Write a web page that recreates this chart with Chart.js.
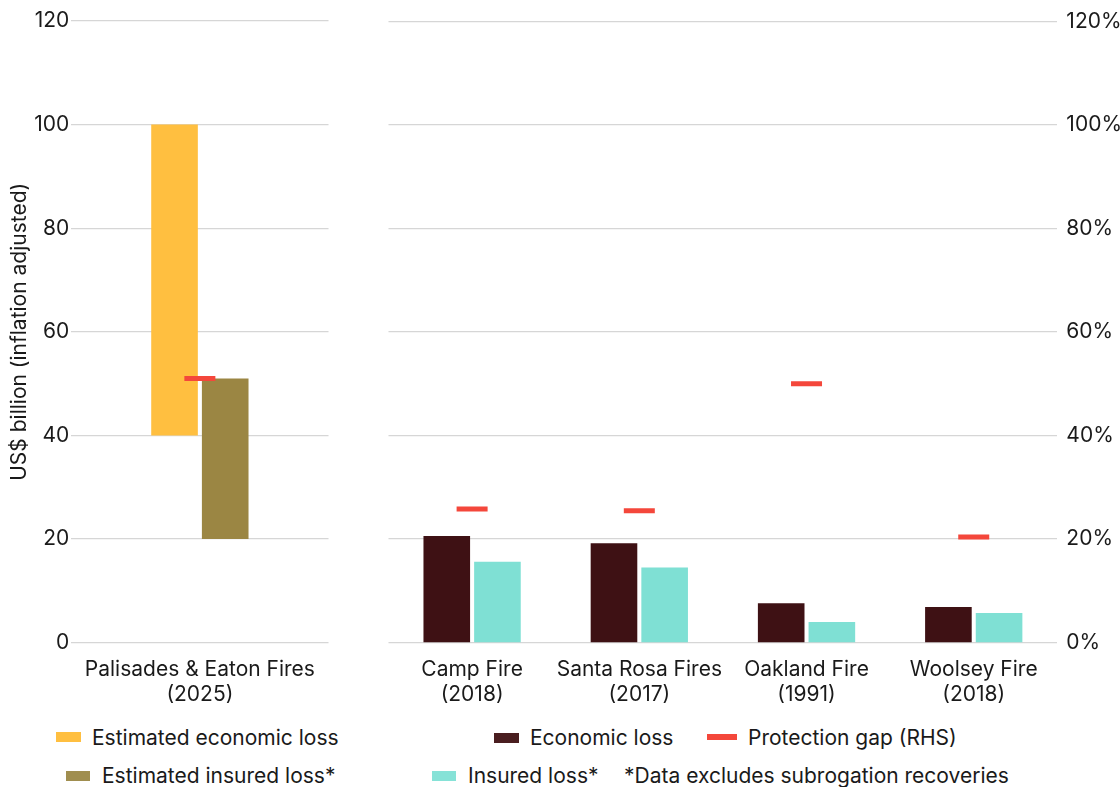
<!DOCTYPE html>
<html>
<head>
<meta charset="utf-8">
<script src="https://cdn.jsdelivr.net/npm/chart.js@4.4.1/dist/chart.umd.min.js"></script>
<style>
  body { margin: 0; background: #fff; width: 1120px; height: 787px; position: relative; overflow: hidden; font-family: Inter, sans-serif; color: #1a1a1a; }
  canvas { position: absolute; top: 0; }
  #leftChart { left: 0; }
  #rightChart { left: 368px; }
  .swatch { position: absolute; }
  .legend-text { position: absolute; font-size: 21px; line-height: 24px; white-space: nowrap; }
</style>
</head>
<body>
<canvas id="leftChart" width="349" height="721"></canvas>
<canvas id="rightChart" width="768" height="721"></canvas>

<div class="swatch" style="left:56px;top:732px;width:25px;height:10px;background:#FFBF40"></div>
<div class="legend-text" style="left:92px;top:726px">Estimated economic loss</div>
<div class="swatch" style="left:494px;top:733px;width:25px;height:10px;background:#4A1E20"></div>
<div class="legend-text" style="left:530px;top:726px">Economic loss</div>
<div class="swatch" style="left:707px;top:734px;width:30px;height:6px;background:#F4473B"></div>
<div class="legend-text" style="left:748px;top:726px">Protection gap (RHS)</div>

<div class="swatch" style="left:66px;top:771px;width:24px;height:10px;background:#A08E4F"></div>
<div class="legend-text" style="left:102px;top:764px">Estimated insured loss*</div>
<div class="swatch" style="left:432px;top:771px;width:24px;height:10px;background:#86E2D7"></div>
<div class="legend-text" style="left:468px;top:764px">Insured loss*</div>
<div class="legend-text" style="left:624px;top:764px">*Data excludes subrogation recoveries</div>

<script>
// 2025 LA fires: estimate ranges (US$ bn), gap in %
const leftCategories = [['Palisades & Eaton Fires', '(2025)']];
const estEconomicRange = [[40, 100]];
const estInsuredRange = [[20, 51]];
const estProtectionGap = [51];

// historical California wildfires (US$ bn, inflation adjusted), gap in %
const rightCategories = [
  ['Camp Fire', '(2018)'],
  ['Santa Rosa Fires', '(2017)'],
  ['Oakland Fire', '(1991)'],
  ['Woolsey Fire', '(2018)']
];
const economicLoss = [20.6, 19.2, 7.6, 6.9];
const insuredLoss = [15.6, 14.5, 4.0, 5.7];
const protectionGap = [25.8, 25.5, 50, 20.4];

const axisMin = 0;
const axisMax = 120;
const axisStep = 20;

const YELLOW = '#FFBF40';
const OLIVE = '#9B8643';
const DARK = '#3E1114';
const TEAL = '#7FE0D4';
const RED = '#F4473B';
const GRID = '#d6d6d6';
const TEXT = '#1a1a1a';

const tickFont = { family: 'Inter', size: 21, lineHeight: 1.2 };

function gapDataset(data, radius) {
  return {
    type: 'line',
    label: 'Protection gap (RHS)',
    data: data,
    yAxisID: 'pct',
    showLine: false,
    pointStyle: 'line',
    pointRadius: radius,
    pointHoverRadius: radius,
    pointBorderWidth: 5,
    pointBorderColor: RED,
    borderColor: RED,
    order: 0
  };
}

function barDataset(label, data, color, catPct) {
  return {
    type: 'bar',
    label: label,
    data: data,
    backgroundColor: color,
    categoryPercentage: catPct,
    barPercentage: 0.92,
    order: 1
  };
}

const xAxis = {
  grid: { display: false, drawTicks: false },
  border: { display: false },
  ticks: { font: tickFont, color: TEXT, padding: 14, maxRotation: 0, autoSkip: false }
};

new Chart(document.getElementById('leftChart'), {
  data: {
    labels: leftCategories,
    datasets: [
      gapDataset(estProtectionGap, 15.5),
      barDataset('Estimated economic loss', estEconomicRange, YELLOW, 0.394),
      barDataset('Estimated insured loss*', estInsuredRange, OLIVE, 0.394)
    ]
  },
  options: {
    responsive: false,
    animation: false,
    layout: { padding: { left: 3, top: 21, right: 11, bottom: 0 } },
    plugins: { legend: { display: false }, tooltip: { enabled: false } },
    scales: {
      x: xAxis,
      y: {
        min: axisMin,
        max: axisMax,
        ticks: { stepSize: axisStep, padding: 2, font: tickFont, color: TEXT },
        grid: { color: GRID, lineWidth: 1.3, drawTicks: false },
        border: { display: false },
        title: {
          display: true,
          text: 'US$ billion (inflation adjusted)',
          font: { family: 'Inter', size: 21 },
          color: TEXT,
          padding: { top: 4, bottom: 0 }
        }
      },
      pct: { display: false, min: axisMin, max: axisMax }
    }
  }
});

new Chart(document.getElementById('rightChart'), {
  data: {
    labels: rightCategories,
    datasets: [
      gapDataset(protectionGap, 15.5),
      barDataset('Economic loss', economicLoss, DARK, 0.606),
      barDataset('Insured loss*', insuredLoss, TEAL, 0.606)
    ]
  },
  options: {
    responsive: false,
    animation: false,
    layout: { padding: { left: 8, top: 13, right: 5, bottom: 0 } },
    plugins: { legend: { display: false }, tooltip: { enabled: false } },
    scales: {
      x: xAxis,
      y: { display: false, min: axisMin, max: axisMax },
      pct: {
        position: 'right',
        min: axisMin,
        max: axisMax,
        ticks: {
          stepSize: axisStep,
          padding: 9,
          font: tickFont,
          color: TEXT,
          callback: v => v + '%'
        },
        grid: { color: GRID, lineWidth: 1.3, drawTicks: false },
        border: { display: false }
      }
    }
  }
});
</script>
</body>
</html>
